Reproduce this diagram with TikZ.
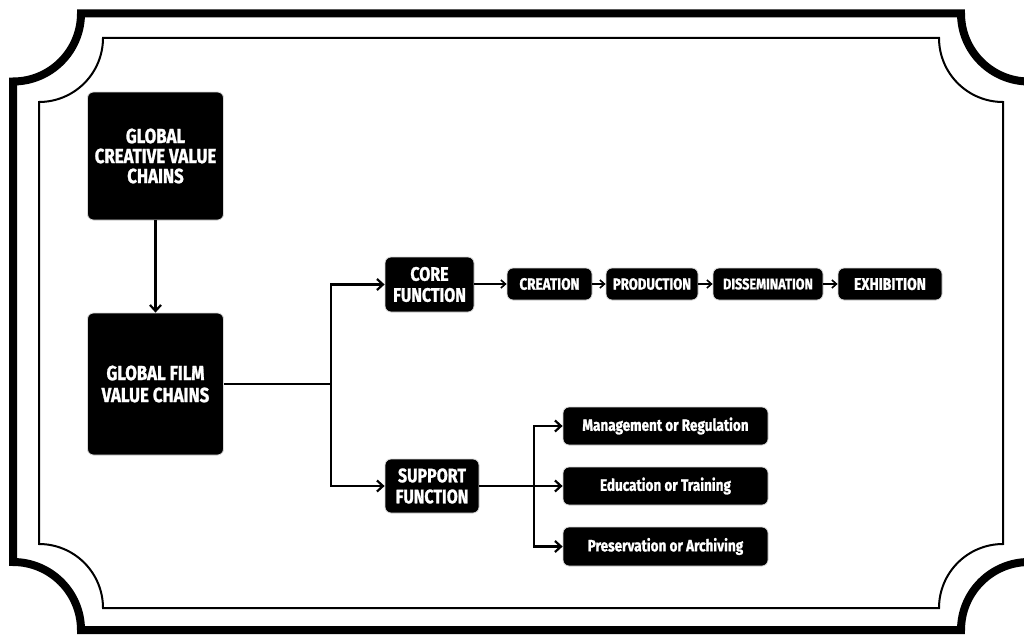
\documentclass[tikz,border=0pt]{standalone}
\usepackage{fontspec}
\newfontfamily\hf{Fira Sans}[FakeStretch=0.82,FakeBold=1.2]
\usetikzlibrary{arrows.meta}
\begin{document}
\begin{tikzpicture}[x=1pt,y=-1pt,
  box/.style={fill=black, draw=black!15, line width=0.8pt, rounded corners=6pt, text=white, align=center, inner sep=0pt, font=\hf\bfseries},
  conn/.style={line width=2.6pt, -{Straight Barb[length=6pt,width=11pt,line width=2.2pt]}},
  plain/.style={line width=2.6pt},
  chain/.style={line width=1.8pt, -{Straight Barb[length=4.5pt,width=8pt,line width=1.6pt]}}]
\useasboundingbox (0,0) rectangle (1024,634);
\fill[white] (0,0) rectangle (1024,634);
% outer frame
\draw[line width=8pt] (81,13.5) -- (961,13.5) arc[start angle=180,end angle=90,radius=68]
  -- (1029,562) arc[start angle=270,end angle=180,radius=68]
  -- (81,630) arc[start angle=0,end angle=-90,radius=68]
  -- (13,81.5) arc[start angle=90,end angle=0,radius=68] -- cycle;
% inner frame
\draw[line width=2pt] (103,38) -- (939,38) arc[start angle=180,end angle=90,radius=64]
  -- (1003,544) arc[start angle=270,end angle=180,radius=64]
  -- (103,608) arc[start angle=0,end angle=-90,radius=64]
  -- (39,102) arc[start angle=90,end angle=0,radius=64] -- cycle;
% nodes
\node[box, minimum width=136pt, minimum height=128pt, font=\hf\bfseries\fontsize{20.5}{20}\selectfont] (gcvc) at (155.5,156) {GLOBAL\\CREATIVE VALUE\\CHAINS};
\node[box, minimum width=136pt, minimum height=142pt, font=\hf\bfseries\fontsize{20.5}{22}\selectfont] (gfvc) at (155.5,384) {GLOBAL FILM\\VALUE CHAINS};
\node[box, minimum width=89pt, minimum height=55pt, font=\hf\bfseries\fontsize{19.5}{21}\selectfont] (core) at (429.5,284.5) {CORE\\FUNCTION};
\node[box, minimum width=85pt, minimum height=32pt, font=\hf\bfseries\fontsize{16.5}{16}\selectfont] (creation) at (549.5,284) {CREATION};
\node[box, minimum width=92pt, minimum height=32pt, font=\hf\bfseries\fontsize{16}{16}\selectfont] (production) at (652,284) {PRODUCTION};
\node[box, minimum width=110pt, minimum height=32pt, font=\hf\bfseries\fontsize{15.5}{14}\selectfont] (dissemination) at (768,284) {DISSEMINATION};
\node[box, minimum width=104pt, minimum height=32pt, font=\hf\bfseries\fontsize{17}{16}\selectfont] (exhibition) at (890,284) {EXHIBITION};
\node[box, minimum width=94pt, minimum height=54pt, font=\hf\bfseries\fontsize{19.5}{21}\selectfont] (support) at (432,486) {SUPPORT\\FUNCTION};
\node[box, minimum width=205pt, minimum height=38pt, font=\hf\bfseries\fontsize{16.5}{16}\selectfont] (mgmt) at (665.5,426) {Management or Regulation};
\node[box, minimum width=205pt, minimum height=38pt, font=\hf\bfseries\fontsize{16.5}{16}\selectfont] (edu) at (665.5,486) {Education or Training};
\node[box, minimum width=205pt, minimum height=39pt, font=\hf\bfseries\fontsize{16.5}{16}\selectfont] (pres) at (665.5,546.5) {Preservation or Archiving};
% connectors
\coordinate (t) at (331,384);
\coordinate (s) at (534,486);
\draw[conn] (gcvc) -- (gfvc);
\draw[plain] (gfvc.east) -- (t);
\draw[conn] (t) |- (core.west);
\draw[conn] (t) |- (support.west);
\draw[chain] (core.east |- creation) -- (creation);
\draw[chain] (creation) -- (production);
\draw[chain] (production) -- (dissemination);
\draw[chain] (dissemination) -- (exhibition);
\draw[plain] (support.east) -- (s);
\draw[conn] (s) |- (mgmt.west);
\draw[conn] (s) -- (edu.west);
\draw[conn] (s) |- (pres.west);
\end{tikzpicture}
\end{document}
